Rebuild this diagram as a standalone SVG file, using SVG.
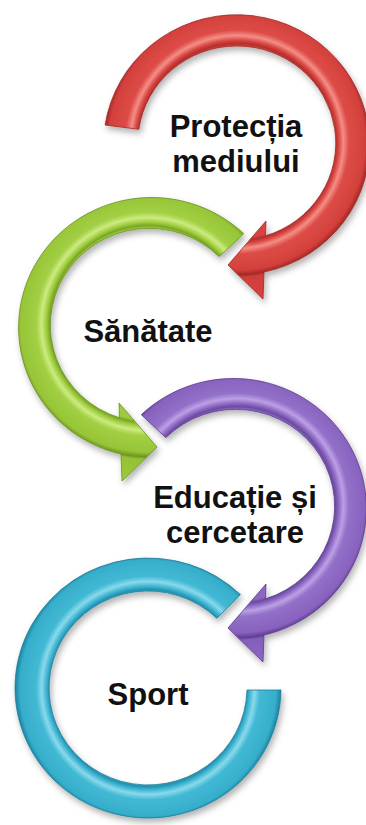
<svg xmlns="http://www.w3.org/2000/svg" width="366" height="825" viewBox="0 0 366 825">
<defs>
<filter id="sh" x="-20%" y="-20%" width="140%" height="140%">
<feDropShadow dx="2" dy="4" stdDeviation="3" flood-color="#000" flood-opacity="0.3"/>
</filter>
<radialGradient id="gRed" gradientUnits="userSpaceOnUse" cx="237" cy="142" r="160">
<stop offset="0" stop-color="#D9433F"/><stop offset="0.60" stop-color="#D9433F"/>
<stop offset="0.615" stop-color="#B0302C"/><stop offset="0.635" stop-color="#D9433F"/>
<stop offset="0.665" stop-color="#F38E86"/><stop offset="0.70" stop-color="#DD4C47"/>
<stop offset="0.80" stop-color="#D4403C"/><stop offset="0.83" stop-color="#A52A26"/>
<stop offset="0.845" stop-color="#CF3E3A"/><stop offset="1" stop-color="#D9433F"/>
</radialGradient>
<radialGradient id="gPur" gradientUnits="userSpaceOnUse" cx="237" cy="505" r="160">
<stop offset="0" stop-color="#8C67C3"/><stop offset="0.60" stop-color="#8C67C3"/>
<stop offset="0.615" stop-color="#6A4A9E"/><stop offset="0.635" stop-color="#8C67C3"/>
<stop offset="0.665" stop-color="#BCA0E6"/><stop offset="0.70" stop-color="#9270C8"/>
<stop offset="0.80" stop-color="#8862BE"/><stop offset="0.83" stop-color="#5E3E92"/>
<stop offset="0.845" stop-color="#8360BB"/><stop offset="1" stop-color="#8C67C3"/>
</radialGradient>
<radialGradient id="gGrn" gradientUnits="userSpaceOnUse" cx="148" cy="324" r="160">
<stop offset="0" stop-color="#9DCB3C"/><stop offset="0.60" stop-color="#9DCB3C"/>
<stop offset="0.615" stop-color="#78A526"/><stop offset="0.635" stop-color="#9DCB3C"/>
<stop offset="0.665" stop-color="#CDEB80"/><stop offset="0.70" stop-color="#A2CF44"/>
<stop offset="0.80" stop-color="#97C537"/><stop offset="0.83" stop-color="#6D9620"/>
<stop offset="0.845" stop-color="#93C236"/><stop offset="1" stop-color="#9DCB3C"/>
</radialGradient>
<radialGradient id="gCyn" gradientUnits="userSpaceOnUse" cx="148" cy="688" r="160">
<stop offset="0" stop-color="#3BB4D0"/><stop offset="0.60" stop-color="#3BB4D0"/>
<stop offset="0.615" stop-color="#2490AE"/><stop offset="0.635" stop-color="#3BB4D0"/>
<stop offset="0.665" stop-color="#8AD9EC"/><stop offset="0.70" stop-color="#42B9D4"/>
<stop offset="0.80" stop-color="#36AECB"/><stop offset="0.83" stop-color="#1C84A0"/>
<stop offset="0.845" stop-color="#34AAC7"/><stop offset="1" stop-color="#3BB4D0"/>
</radialGradient>
</defs>
<style>
.shape{filter:url(#sh);stroke-width:0.8;stroke-linejoin:round}
.lbl{font-family:"Liberation Sans",Arial,sans-serif;font-weight:bold;font-size:31px;fill:#111;text-anchor:middle}
</style>

<g id="node-sport">
<path class="shape" fill="url(#gCyn)" stroke="#1E7F99" d="M240.4,594.5 A133,130 0 1 0 281,690 L247,690 A99,97 0 1 1 216.8,618.2 Z"/>
<text class="lbl" x="148" y="705">Sport</text>
</g>

<g id="node-educatie">
<path class="shape" fill="url(#gPur)" stroke="#5A3A8C" d="M141.3,414.7 A133,130 0 1 1 264,635 L263,662 L228,628 L266,584 L265.5,598.8 A99,97 0 1 0 165.8,437.6 Z"/>
<text class="lbl" x="235" y="508">Educație și</text>
<text class="lbl" x="235" y="543">cercetare</text>
</g>

<g id="node-sanatate">
<path class="shape" fill="url(#gGrn)" stroke="#68901E" d="M243.7,233.7 A133,130 0 1 0 121,454 L122,481 L157,447 L119,403 L119.5,417.8 A99,97 0 1 1 219.2,256.6 Z"/>
<text class="lbl" x="148" y="342">Sănătate</text>
</g>

<g id="node-protectia">
<path class="shape" fill="url(#gRed)" stroke="#9E2824" d="M105.1,125 A133,130 0 1 1 264,272 L263,299 L228,265 L266,221 L265.5,235.8 A99,97 0 1 0 138.8,129.3 Z"/>
<text class="lbl" x="236" y="137">Protecția</text>
<text class="lbl" x="236" y="172">mediului</text>
</g>
</svg>
